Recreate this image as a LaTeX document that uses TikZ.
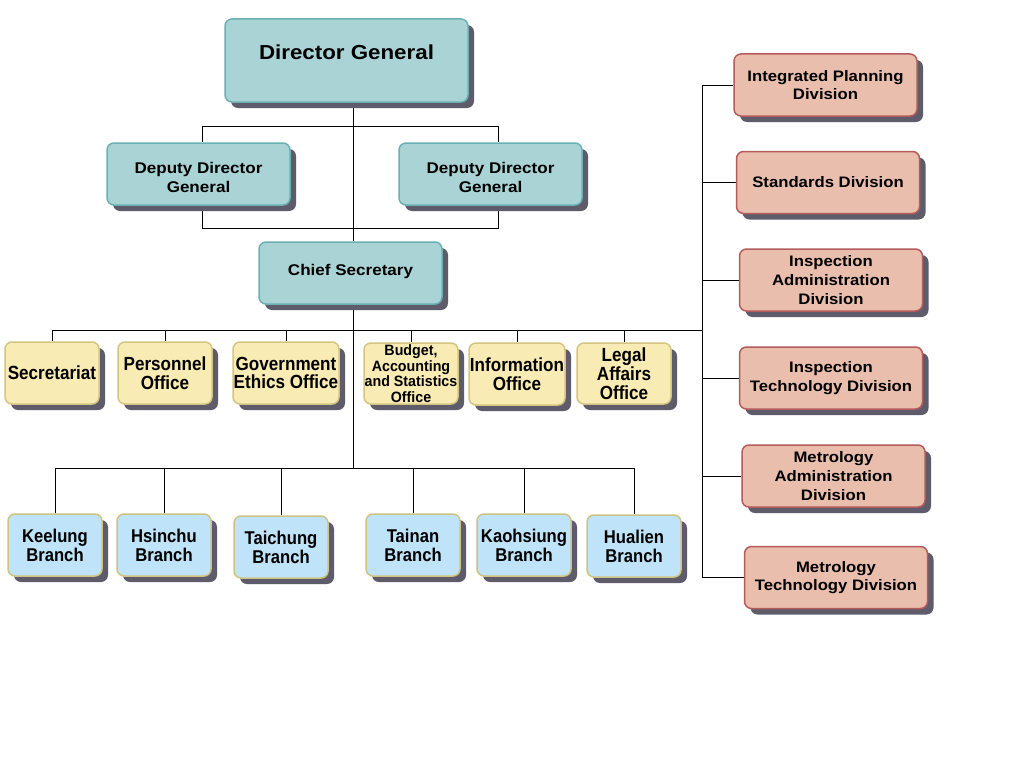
\documentclass[tikz,border=0pt]{standalone}
\usepackage{fontspec}
\setmainfont{Liberation Sans}
\newfontfamily\condf[FakeStretch=0.9]{Liberation Sans}
\newfontfamily\budf[FakeStretch=0.95]{Liberation Sans}
\newfontfamily\widef[FakeStretch=1.1]{Liberation Sans}
\usetikzlibrary{shadows,calc,backgrounds}
\definecolor{tealf}{HTML}{A9D3D5}
\definecolor{teald}{HTML}{6BB0B2}
\definecolor{yelf}{HTML}{F9EBB4}
\definecolor{yeld}{HTML}{D3C580}
\definecolor{bluf}{HTML}{BFE3F8}
\definecolor{blud}{HTML}{CFC381}
\definecolor{redf}{HTML}{E9BEAD}
\definecolor{redd}{HTML}{B55B5B}
\definecolor{shadowc}{HTML}{5E5C6B}
\begin{document}
\begin{tikzpicture}[x=1pt,y=-1pt,
  box/.style={draw, rounded corners=7pt, line width=1.5pt, align=center, inner sep=0pt,
    drop shadow={shadow xshift=6pt, shadow yshift=-6pt, fill=shadowc, opacity=1}},
  tealbox/.style={box, fill=tealf, draw=teald, font=\fontsize{15.5}{19}\selectfont\widef\bfseries},
  yelbox/.style={box, fill=yelf, draw=yeld, minimum height=62pt, font=\fontsize{19}{18.5}\selectfont\condf\bfseries},
  blubox/.style={box, fill=bluf, draw=blud, minimum width=94pt, minimum height=62pt, font=\fontsize{18.5}{19}\selectfont\condf\bfseries},
  redbox/.style={box, fill=redf, draw=redd, minimum width=183pt, minimum height=62pt, font=\fontsize{15.2}{18.7}\selectfont\widef\bfseries},
  conn/.style={draw=black, line width=0.9pt}]
\useasboundingbox (0,0) rectangle (1024,768);

% top
\node[tealbox, minimum width=243pt, minimum height=83pt, font=\fontsize{20.3}{22}\selectfont\widef\bfseries] (dg) at (346.5,60.5) {\raisebox{16pt}{Director General}};
\node[tealbox, minimum width=183pt, minimum height=62pt] (dd1) at (198.5,174) {\raisebox{-5pt}[\height][\depth]{\begin{tabular}{@{}c@{}}Deputy Director\\General\end{tabular}}};
\node[tealbox, minimum width=183pt, minimum height=62pt] (dd2) at (490.5,174) {\raisebox{-5pt}[\height][\depth]{\begin{tabular}{@{}c@{}}Deputy Director\\General\end{tabular}}};
\node[tealbox, minimum width=183pt, minimum height=62pt] (cs) at (350.5,273) {\raisebox{7pt}{Chief Secretary}};

% yellow offices
\node[yelbox, minimum width=94pt] (y1) at (52,373) {Secretariat};
\node[yelbox, minimum width=94pt] (y2) at (165,373) {Personnel\\Office};
\node[yelbox, minimum width=106pt] (y3) at (286,373) {Government\\Ethics Office};
\node[yelbox, minimum width=94pt, minimum height=61pt, font=\fontsize{15}{15.7}\selectfont\budf\bfseries] (y4) at (411,373.5) {Budget,\\Accounting\\and Statistics\\Office};
\node[yelbox, minimum width=96pt] (y5) at (517,374) {Information\\Office};
\node[yelbox, minimum width=94pt, minimum height=61pt, font=\fontsize{19}{19}\selectfont\condf\bfseries] (y6) at (624,373.5) {Legal\\Affairs\\Office};

% branches
\node[blubox] (b1) at (55,545) {Keelung\\Branch};
\node[blubox] (b2) at (164,545) {Hsinchu\\Branch};
\node[blubox] (b3) at (281,547) {Taichung\\Branch};
\node[blubox] (b4) at (413,545) {Tainan\\Branch};
\node[blubox] (b5) at (524,545) {Kaohsiung\\Branch};
\node[blubox] (b6) at (634,546) {Hualien\\Branch};

% divisions
\node[redbox] (r1) at (825.5,85) {Integrated Planning\\Division};
\node[redbox] (r2) at (828,182.5) {Standards Division};
\node[redbox] (r3) at (831,280) {Inspection\\Administration\\Division};
\node[redbox] (r4) at (831,378) {Inspection\\Technology Division};
\node[redbox] (r5) at (833.5,476) {Metrology\\Administration\\Division};
\node[redbox] (r6) at (836,577.5) {Metrology\\Technology Division};

\begin{scope}[on background layer]
\fill[white] (0,0) rectangle (1024,768);
\coordinate (sp) at (353,0);
\coordinate (rs) at (702,0);
% spine
\draw[conn] (dg.south -| sp) -- (cs.north -| sp);
\draw[conn] (cs.south -| sp) -- (353,468);
% deputies
\draw[conn] ($(dd1.north)+(3.5,0)$) -- (202,126) -- (498,126) -- ($(dd2.north)+(7.5,0)$);
\draw[conn] ($(dd1.south)+(3.5,0)$) -- (202,228) -- (498,228) -- ($(dd2.south)+(7.5,0)$);
% office bus
\draw[conn] (y1.north |- 0,330) -- (rs |- 0,330);
\foreach \n in {y1,y2,y3,y4,y5,y6} \draw[conn] (\n.north) -- (\n.north |- 0,330);
% branch bus
\draw[conn] (b1.north |- 0,468) -- (b6.north |- 0,468);
\foreach \n in {b1,b2,b3,b4,b5,b6} \draw[conn] (\n.north) -- (\n.north |- 0,468);
% division spine
\draw[conn] (r1.west -| rs) -- (r6.west -| rs);
\foreach \n in {r1,r2,r3,r4,r5,r6} \draw[conn] (\n.west) -- (\n.west -| rs);
\end{scope}
\end{tikzpicture}
\end{document}
